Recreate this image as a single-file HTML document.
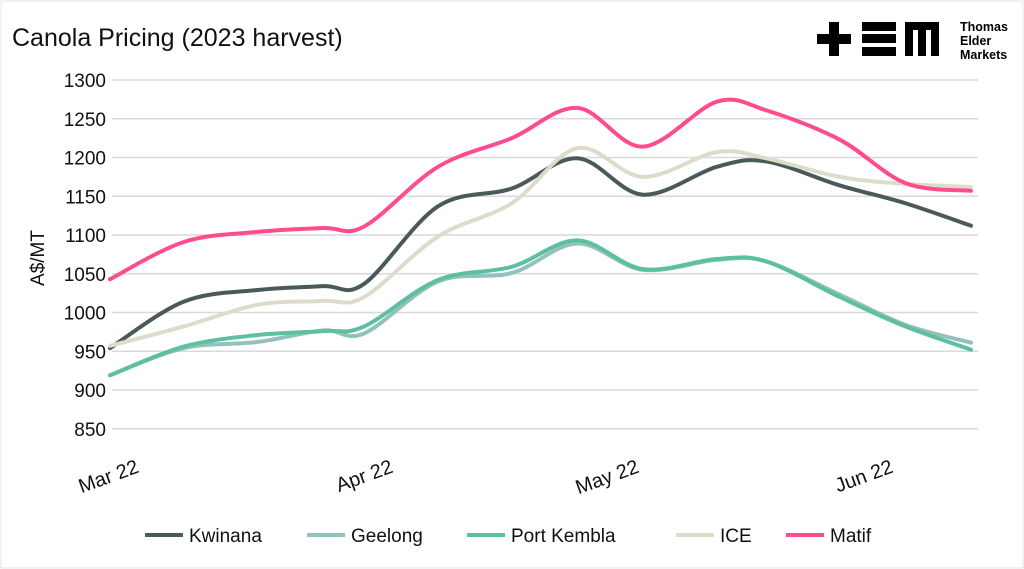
<!DOCTYPE html>
<html><head><meta charset="utf-8"><style>
body{margin:0;background:#fff;font-family:"Liberation Sans",sans-serif;}
#wrap{position:relative;width:1024px;height:569px;overflow:hidden;background:#fff;}
</style></head><body>
<div id="wrap">
<svg id="chart" width="1024" height="569">
<rect x="1" y="1" width="1022" height="567" fill="#fff" stroke="#e6e6e6"/>
<text x="12" y="46" font-size="25" fill="#111">Canola Pricing (2023 harvest)</text>
<g>
<rect x="817" y="34" width="34" height="10" fill="#000"/><rect x="829" y="22" width="10" height="34" fill="#000"/>
<rect x="862" y="22" width="34" height="9" fill="#000"/><rect x="862" y="34" width="34" height="9" fill="#000"/><rect x="862" y="47" width="34" height="9" fill="#000"/>
<path d="M905 22h34v34h-8v-26h-5v26h-8v-26h-5v26h-8z" fill="#000"/>
<text x="960" y="31" font-size="12.5" font-weight="bold" fill="#000">Thomas</text>
<text x="960" y="45" font-size="12.5" font-weight="bold" fill="#000">Elder</text>
<text x="960" y="59" font-size="12.5" font-weight="bold" fill="#000">Markets</text>
</g>
<text transform="translate(44,258) rotate(-90)" text-anchor="middle" font-size="19" fill="#111">A$/MT</text>
<g id="grid"></g><g id="series"></g><g id="xt"></g>
<g id="legend"></g>
</svg>
</div>
<script>
const yTicks=[850,900,950,1000,1050,1100,1150,1200,1250,1300];
const xTickDays=[0,31,61,92];
const xTickLabels=["Mar 22","Apr 22","May 22","Jun 22"];
const days=[0,9,18,26,31,40,49,57,65,74,80,89,97,105];
const kwinana=[954,1014,1029,1034,1037,1137,1160,1199,1152,1188,1195,1164,1141,1112];
const geelong=[919,954,962,977,973,1040,1051,1089,1055,1068,1066,1023,984,961];
const portKembla=[919,956,971,976,982,1042,1059,1093,1056,1069,1066,1020,982,952];
const ice=[957,982,1010,1015,1020,1098,1141,1212,1175,1207,1199,1175,1166,1162];
const matif=[1043,1091,1104,1109,1111,1188,1225,1264,1214,1272,1261,1223,1167,1157];
const seriesNames=["Kwinana","Geelong","Port Kembla","ICE","Matif"];
const seriesData=[kwinana,geelong,portKembla,ice,matif];
const colors=["#4a5a58","#93c1bb","#5cc0a0","#dcdccb","#ff4c8f"];
const slugs=["kwinana","geelong","port-kembla","ice","matif"];
const NS="http://www.w3.org/2000/svg";
const X=d=>110+d*8.2, Y=v=>80+(1300-v)/50*38.75;
function mk(t,a,p){const e=document.createElementNS(NS,t);for(const k in a)e.setAttribute(k,a[k]);p.appendChild(e);return e;}
const grid=document.getElementById('grid');
yTicks.forEach(v=>{
 const l=mk('line',{x1:112,x2:978,y1:Y(v),y2:Y(v),stroke:'#d9d9d9','stroke-width':1.5},grid);
 
 
 const t=mk('text',{x:106,y:Y(v)+7,'text-anchor':'end','font-size':19,fill:'#111'},grid);
 t.textContent=v;
 
 
});
const xt=document.getElementById('xt');
xTickDays.forEach((d,i)=>{
 const t=mk('text',{transform:`translate(${X(d)+30},${472}) rotate(-20)`,'text-anchor':'end','font-size':20,fill:'#111'},xt);
 t.textContent=xTickLabels[i];
 
 
});
function path(vals){
 const p=days.map((d,i)=>[X(d),Y(vals[i])]);
 let s=`M${p[0][0]},${p[0][1]}`;
 for(let i=0;i<p.length-1;i++){
  const p0=p[i-1]||p[i],p1=p[i],p2=p[i+1],p3=p[i+2]||p2;
  const c1=[p1[0]+(p2[0]-p0[0])/6,p1[1]+(p2[1]-p0[1])/6];
  const c2=[p2[0]-(p3[0]-p1[0])/6,p2[1]-(p3[1]-p1[1])/6];
  s+=`C${c1[0]},${c1[1]} ${c2[0]},${c2[1]} ${p2[0]},${p2[1]}`;
 }
 return s;
}
const sg=document.getElementById('series');
[1,2,0,3,4].forEach(i=>{
 const pth=mk('path',{d:path(seriesData[i]),fill:'none',stroke:colors[i],'stroke-width':4,'stroke-linecap':'round'},sg);
 
 
});
const lg=document.getElementById('legend');
const lx=[145,307,467,676,786];
seriesNames.forEach((n,i)=>{
 const l=mk('line',{x1:lx[i],x2:lx[i]+38,y1:535,y2:535,stroke:colors[i],'stroke-width':4},lg);
 
 
 const t=mk('text',{x:lx[i]+44,y:542,'font-size':19,fill:'#111'},lg);
 t.textContent=n;
 
 
});
</script>
</body></html>
